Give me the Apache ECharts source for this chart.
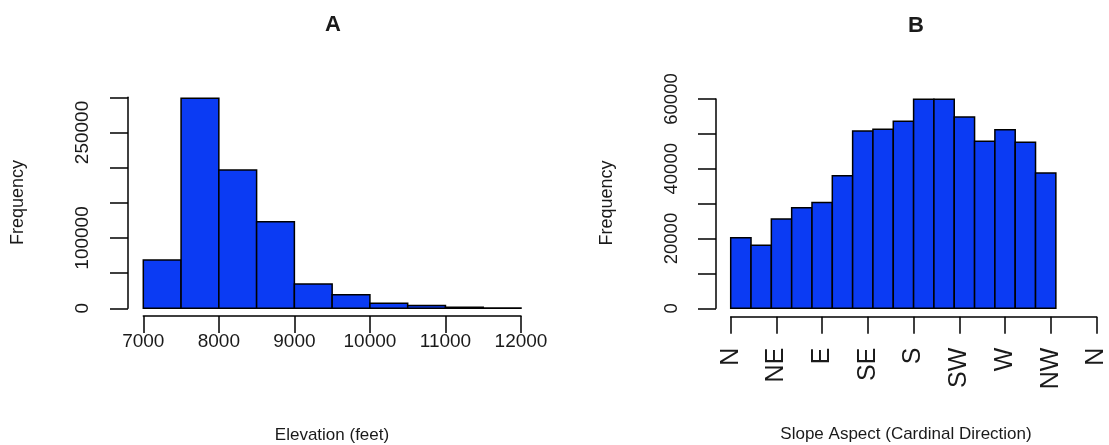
<!DOCTYPE html>
<html>
<head>
<meta charset="utf-8">
<script src="https://cdn.jsdelivr.net/npm/echarts@6/dist/echarts.min.js"></script>
<style>
  html, body { margin: 0; padding: 0; background: #ffffff; }
  #chart { width: 1109px; height: 445px; }
</style>
</head>
<body>
<div id="chart"></div>
<script>
// Panel A: elevation histogram (bin edges in feet, counts per bin)
const elevBreaks = [7000, 7500, 8000, 8500, 9000, 9500, 10000, 10500, 11000, 11500, 12000];
const elevCounts = [68700, 298500, 196600, 123100, 34500, 19300, 7100, 4000, 1500, 500];
const elevTicks = [7000, 8000, 9000, 10000, 11000, 12000];
const elevYLabels = [0, 100000, 250000];

// Panel B: slope aspect histogram (bin edges in degrees, counts per bin)
const aspectBreaks = [0, 20, 40, 60, 80, 100, 120, 140, 160, 180, 200, 220, 240, 260, 280, 300, 320];
const aspectCounts = [20200, 18100, 25600, 28850, 30300, 38000, 50800, 51300, 53600, 59900, 59900, 54850, 47900, 51200, 47600, 38800];
const compassDegrees = [0, 45, 90, 135, 180, 225, 270, 315, 360];
const compassLabels = ['N', 'NE', 'E', 'SE', 'S', 'SW', 'W', 'NW', 'N'];
const aspectYLabels = [0, 20000, 40000, 60000];

const BAR = '#0b3bf3';
const INK = '#1a1a1a';
const FONT = '"Liberation Sans", Arial, Helvetica, sans-serif';

function toBins(breaks, counts) {
  return counts.map((c, i) => [breaks[i], breaks[i + 1], c]);
}

function histItem(params, api) {
  const p0 = api.coord([api.value(0), 0]);
  const p1 = api.coord([api.value(1), api.value(2)]);
  return {
    type: 'rect',
    shape: { x: p0[0], y: p1[1], width: p1[0] - p0[0], height: p0[1] - p1[1] },
    style: { fill: BAR, stroke: '#000', lineWidth: 1.5 }
  };
}

function axisLineStyle() {
  return { show: true, onZero: false, lineStyle: { color: '#000', width: 1.5 } };
}

function textEl(text, x, y, size, opts) {
  opts = opts || {};
  return {
    type: 'text',
    x: x, y: y,
    rotation: opts.rotation || 0,
    style: {
      text: text,
      font: (opts.bold ? 'bold ' : '') + size + 'px ' + FONT,
      fill: INK,
      align: 'center', verticalAlign: 'middle',
      textAlign: 'center', textVerticalAlign: 'middle'
    }
  };
}

const chart = echarts.init(document.getElementById('chart'), null, { renderer: 'canvas' });

chart.setOption({
  animation: false,
  backgroundColor: '#ffffff',
  grid: [
    { left: 143.3, top: 97.3, width: 377.7, height: 211 },
    { left: 730.7, top: 99, width: 377, height: 209.3 }
  ],
  xAxis: [
    {
      gridIndex: 0, type: 'value', min: 7000, max: 12000, interval: 1000,
      offset: 7.7,
      axisLine: axisLineStyle(),
      axisTick: { show: true, length: 17, lineStyle: { color: '#000', width: 1.5 } },
      axisLabel: {
        margin: 16, fontSize: 19, fontFamily: FONT, color: INK,
        formatter: v => elevTicks.includes(v) ? String(v) : ''
      },
      splitLine: { show: false }
    },
    {
      gridIndex: 1, type: 'value', min: 0, max: 360, interval: 45,
      offset: 8.4,
      axisLine: axisLineStyle(),
      axisTick: { show: true, length: 17, lineStyle: { color: '#000', width: 1.5 } },
      axisLabel: {
        rotate: 90, margin: 31, fontSize: 25, fontFamily: FONT, color: INK,
        hideOverlap: false, showMinLabel: true, showMaxLabel: true,
        formatter: v => {
          const i = compassDegrees.indexOf(v);
          return i >= 0 ? compassLabels[i] : '';
        }
      },
      splitLine: { show: false }
    }
  ],
  yAxis: [
    {
      gridIndex: 0, type: 'value', min: 0, max: 300000, interval: 50000,
      offset: 15.3,
      axisLine: axisLineStyle(),
      axisTick: { show: true, length: 18, lineStyle: { color: '#000', width: 1.5 } },
      axisLabel: {
        rotate: 90, margin: 36, fontSize: 19, fontFamily: FONT, color: INK,
        hideOverlap: false,
        formatter: v => elevYLabels.includes(v) ? String(v) : ''
      },
      splitLine: { show: false }
    },
    {
      gridIndex: 1, type: 'value', min: 0, max: 60000, interval: 10000,
      offset: 14.7,
      axisLine: axisLineStyle(),
      axisTick: { show: true, length: 18, lineStyle: { color: '#000', width: 1.5 } },
      axisLabel: {
        rotate: 90, margin: 35, fontSize: 18.5, fontFamily: FONT, color: INK,
        hideOverlap: false,
        formatter: v => aspectYLabels.includes(v) ? String(v) : ''
      },
      splitLine: { show: false }
    }
  ],
  series: [
    {
      type: 'custom', xAxisIndex: 0, yAxisIndex: 0,
      renderItem: histItem,
      encode: { x: [0, 1], y: 2 },
      data: toBins(elevBreaks, elevCounts)
    },
    {
      type: 'custom', xAxisIndex: 1, yAxisIndex: 1,
      renderItem: histItem,
      encode: { x: [0, 1], y: 2 },
      data: toBins(aspectBreaks, aspectCounts)
    }
  ],
  graphic: [
    textEl('A', 333, 24.5, 22, { bold: true }),
    textEl('B', 916, 26, 22, { bold: true }),
    textEl('Frequency', 18, 202.5, 18, { rotation: Math.PI / 2 }),
    textEl('Frequency', 607, 203, 18, { rotation: Math.PI / 2 }),
    textEl('Elevation (feet)', 332, 435, 17),
    textEl('Slope Aspect (Cardinal Direction)', 906, 434, 17)
  ]
});
</script>
</body>
</html>
